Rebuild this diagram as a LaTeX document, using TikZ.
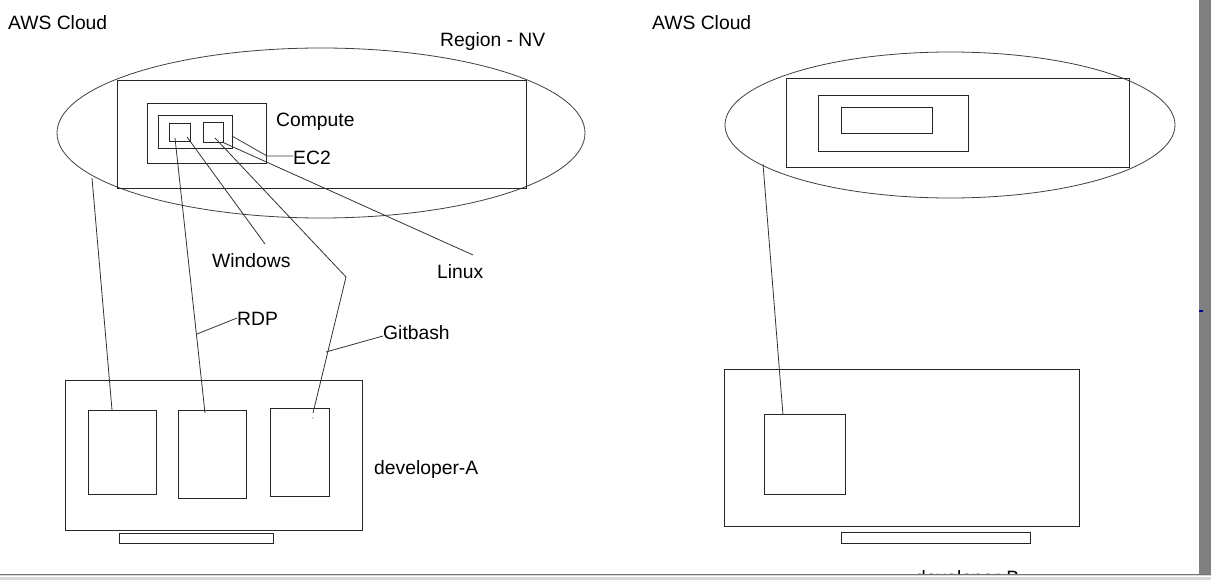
\documentclass[tikz,border=0pt]{standalone}
\usepackage{fontspec}
\setmainfont{Liberation Sans}
\usetikzlibrary{shapes.geometric}
\tikzset{
  box/.style={draw=black!85, line width=0.8pt, inner sep=0pt},
  oval/.style={draw=black!75, line width=0.8pt, ellipse, inner sep=0pt},
  wire/.style={draw=black!80, line width=0.8pt},
  lbl/.style={anchor=base west, inner sep=0pt, font=\fontsize{19.3}{23}\selectfont},
}
\begin{document}
\begin{tikzpicture}[x=1pt,y=-1pt]
\useasboundingbox (0,0) rectangle (1211,580);
\fill[white] (0,0) rectangle (1211,580);

% ---------- left side ----------
\node[lbl] (awsA) at (8,30) {AWS Cloud};
\node[lbl] (region) at (440,47) {Region - NV};
\node[oval, minimum width=528pt, minimum height=170pt] (ellA) at (321,133) {};
\node[box, minimum width=409pt, minimum height=108pt] (rA) at (321.5,134) {};
\node[box, minimum width=119pt, minimum height=60pt] (compute) at (206.5,133) {};
\node[box, minimum width=74pt, minimum height=33pt] (ec2) at (195,131.5) {};
\node[box, minimum width=21pt, minimum height=18pt] (vmW) at (179.5,132) {};
\node[box, minimum width=20pt, minimum height=20pt] (vmL) at (213,132) {};
\node[lbl] (computeL) at (276,127) {Compute};
\node[lbl] (ec2L) at (293,165) {EC2};
\node[lbl] (winL) at (212,268) {Windows};
\node[lbl] (linL) at (437,279) {Linux};
\node[lbl] (rdpL) at (237,325) {RDP};
\node[lbl] (gitL) at (383,339) {Gitbash};
\node[lbl] (devAL) at (374,474) {developer-A};

\node[box, minimum width=297pt, minimum height=150pt] (devA) at (213.5,455) {};
\node[box, minimum width=68pt, minimum height=84pt] (m1) at (122,452) {};
\node[box, minimum width=68pt, minimum height=88pt] (m2) at (212,454) {};
\node[box, minimum width=59pt, minimum height=88pt] (m3) at (299.5,452) {};
\node[box, minimum width=154pt, minimum height=10pt] (barA) at (196,538) {};

\coordinate (c0s) at (92,178);   \coordinate (c0e) at (112,410);
\coordinate (rdpS) at (175,138); \coordinate (rdpE) at (205,413);
\coordinate (winS) at (187,137); \coordinate (winE) at (265,244);
\coordinate (gitS) at (215,138); \coordinate (gitB) at (346,277); \coordinate (gitE) at (313,413);
\coordinate (linS) at (222,142); \coordinate (linE) at (473,255);
\coordinate (ecS) at (232,136);  \coordinate (ecB) at (267,156); \coordinate (ecE) at (293,156);
\coordinate (rdpT) at (197,334); \coordinate (rdpLE) at (237,318);
\coordinate (gitT) at (326,352); \coordinate (gitLE) at (383,336);

\draw[wire] (c0s) -- (c0e);
\draw[wire] (rdpS) -- (rdpE);
\draw[wire] (winS) -- (winE);
\draw[wire] (gitS) -- (gitB) -- (gitE);
\draw[wire] (linS) -- (linE);
\draw[wire] (ecS) -- (ecB) -- (ecE);
\draw[wire] (rdpT) -- (rdpLE);
\draw[wire] (gitT) -- (gitLE);
\fill[black!70] (313,418) circle (0.6pt);

% ---------- right side ----------
\node[lbl] (awsB) at (652,30) {AWS Cloud};
\node[oval, minimum width=450pt, minimum height=146pt] (ellB) at (950,125) {};
\node[box, minimum width=343pt, minimum height=89pt] (rB) at (957.5,122.5) {};
\node[box, minimum width=150pt, minimum height=56pt] (midB) at (893,123) {};
\node[box, minimum width=91pt, minimum height=26pt] (inB) at (886.5,120) {};
\node[box, minimum width=355pt, minimum height=157pt] (devB) at (901.5,447.5) {};
\node[box, minimum width=81pt, minimum height=80pt] (mB) at (804.5,454) {};
\node[box, minimum width=189pt, minimum height=11pt] (barB) at (935.5,537.5) {};
\coordinate (rS) at (763,164); \coordinate (rE) at (783,415);
\draw[wire] (rS) -- (rE);
\node[lbl] (devBL) at (915,584) {developer-B};

% ---------- window frame ----------
\fill[black!50] (1199,0) rectangle (1211,574);
\fill[blue!60!black] (1199,310.5) rectangle (1203,312);
\fill[black!15] (0,574) rectangle (1211,580);
\draw[black!55, line width=1pt] (0,574.5) -- (1211,574.5);
\draw[white, line width=1pt] (0,576.5) -- (1211,576.5);
\end{tikzpicture}
\end{document}
